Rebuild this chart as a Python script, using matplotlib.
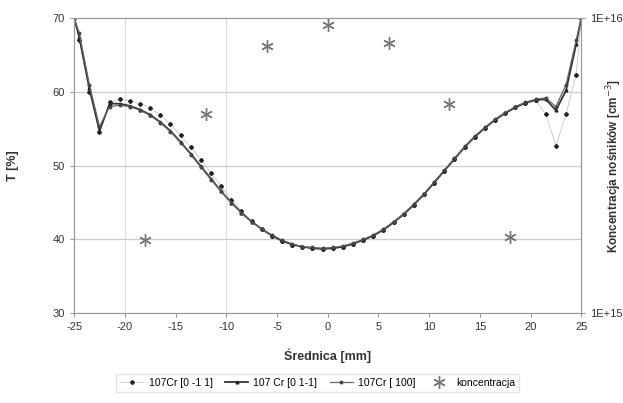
import matplotlib
matplotlib.use("Agg")
import matplotlib.pyplot as plt
from matplotlib.ticker import FixedLocator, NullLocator

plt.rcParams['font.family'] = ['Liberation Sans', 'DejaVu Sans']
plt.rcParams['axes.unicode_minus'] = False

# pozycje pomiarowe [mm]
srednica = [-25, -24.5, -23.5, -22.5, -21.5, -20.5, -19.5, -18.5, -17.5, -16.5,
            -15.5, -14.5, -13.5, -12.5, -11.5, -10.5, -9.5, -8.5, -7.5, -6.5,
            -5.5, -4.5, -3.5, -2.5, -1.5, -0.5, 0.5, 1.5, 2.5, 3.5,
            4.5, 5.5, 6.5, 7.5, 8.5, 9.5, 10.5, 11.5, 12.5, 13.5,
            14.5, 15.5, 16.5, 17.5, 18.5, 19.5, 20.5, 21.5, 22.5, 23.5,
            24.5, 25]

t_0m11 = [70, 67.0, 60.0, 54.5, 58.6, 59.0, 58.8, 58.4, 57.8, 56.9,
          55.6, 54.1, 52.5, 50.8, 49.0, 47.2, 45.4, 43.8, 42.5, 41.4,
          40.5, 39.8, 39.3, 39.0, 38.8, 38.7, 38.8, 39.0, 39.4, 39.9,
          40.5, 41.3, 42.3, 43.4, 44.7, 46.1, 47.7, 49.3, 50.9, 52.5,
          53.9, 55.1, 56.2, 57.1, 57.9, 58.5, 58.9, 57.0, 52.7, 57.0,
          62.3, 70]

t_01m1 = [70, 67.5, 60.5, 54.7, 58.4, 58.4, 58.1, 57.6, 56.9, 55.9,
          54.7, 53.2, 51.6, 49.9, 48.2, 46.5, 45.0, 43.6, 42.4, 41.4,
          40.5, 39.8, 39.3, 39.0, 38.8, 38.7, 38.8, 39.0, 39.4, 39.9,
          40.5, 41.3, 42.3, 43.4, 44.7, 46.1, 47.7, 49.3, 50.9, 52.5,
          53.9, 55.1, 56.2, 57.1, 57.9, 58.5, 58.9, 59.0, 57.5, 60.2,
          66.5, 70]

t_100 = [70, 68.0, 61.0, 55.3, 58.0, 58.2, 58.0, 57.5, 56.8, 55.8,
         54.6, 53.1, 51.5, 49.8, 48.1, 46.5, 45.0, 43.6, 42.4, 41.4,
         40.6, 39.9, 39.4, 39.0, 38.9, 38.8, 38.9, 39.1, 39.5, 40.0,
         40.6, 41.4, 42.4, 43.5, 44.8, 46.2, 47.8, 49.4, 51.0, 52.6,
         54.0, 55.2, 56.3, 57.2, 58.0, 58.6, 59.0, 59.2, 58.0, 61.0,
         67.0, 70]

# koncentracja nosnikow
x_konc = [-18, -12, -6, 0, 6, 12, 18]
konc = [1.77e15, 4.73e15, 8.04e15, 9.47e15, 8.23e15, 5.11e15, 1.81e15]

fig = plt.figure(figsize=(6.23, 4.03), dpi=100)
ax = fig.add_axes([0.119, 0.223, 0.814, 0.732])

ax.plot(srednica, t_0m11, color='#bbbbbb', lw=0.5, marker='D', ms=2,
        mfc='#222222', mec='#222222', label='107Cr [0 -1 1]')
ax.plot(srednica, t_01m1, color='#333333', lw=1.3, marker='^', ms=2,
        mfc='#222222', mec='#222222', label='107 Cr [0 1-1]')
ax.plot(srednica, t_100, color='#666666', lw=0.9, marker='o', ms=1.8,
        mfc='#444444', mec='#444444', label='107Cr [ 100]')

ax.set_xlim(-25, 25)
ax.set_ylim(30, 70)
ax.set_xticks(range(-25, 26, 5))
ax.set_yticks(range(30, 71, 10))
ax.grid(False)
for yy in (40, 50, 60):
    ax.axhline(yy, color='#cccccc', lw=0.9, zorder=0)
for xx in (-20, -10):
    ax.axvline(xx, color='#dddddd', lw=0.8, zorder=0)

for s in ax.spines.values():
    s.set_color('#999999')
ax.tick_params(labelsize=8, colors='#333333', length=3, color='#999999')
ax.set_xlabel('Średnica [mm]', fontsize=9, fontweight='bold', color='#333333', labelpad=12)
ax.set_ylabel('T [%]', fontsize=9, fontweight='bold', color='#333333', labelpad=24)

ax2 = ax.twinx()
ax2.set_yscale('log')
ax2.set_ylim(1e15, 1e16)
ax2.plot(x_konc, konc, linestyle='none', marker=(6, 2, 0), ms=9,
         color='#777777', mew=1.0, label='koncentracja')
ax2.yaxis.set_major_locator(FixedLocator([1e15, 1e16]))
ax2.yaxis.set_minor_locator(NullLocator())
ax2.set_yticklabels(['1E+15', '1E+16'])
ax2.tick_params(labelsize=8, colors='#333333', length=3, color='#999999')
for s in ax2.spines.values():
    s.set_color('#999999')
ax2.set_ylabel('Koncentracja nośników [cm$^{-3}$]', fontsize=8.5, fontweight='bold',
               color='#333333')
ax2.yaxis.set_label_coords(1.045, 0.5)

h1, l1 = ax.get_legend_handles_labels()
h2, l2 = ax2.get_legend_handles_labels()
fig.legend(h1 + h2, l1 + l2, loc='center', bbox_to_anchor=(0.51, 0.05), ncol=4,
           fontsize=7.5, frameon=True, edgecolor='#dddddd', fancybox=False,
           handlelength=2.2, columnspacing=1.2, handletextpad=0.5)

fig.savefig('out.png', dpi=100)
